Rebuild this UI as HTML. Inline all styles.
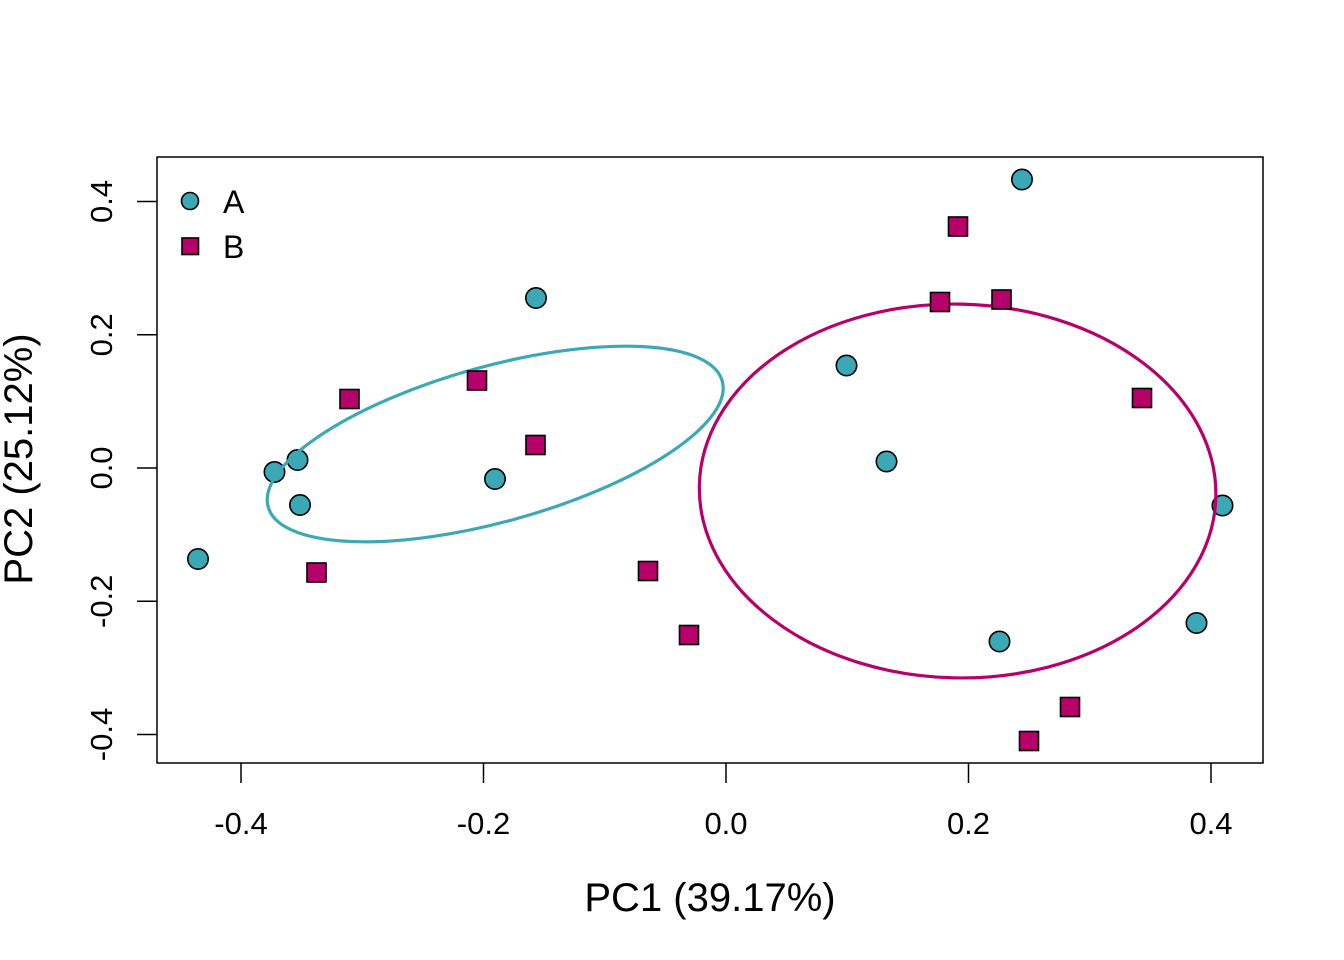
<!DOCTYPE html>
<html>
<head>
<meta charset="utf-8">
<style>
  html, body { margin: 0; padding: 0; background: #ffffff; }
  svg { display: block; }
  text { font-family: "Liberation Sans", Arial, sans-serif; fill: #000; }
</style>
</head>
<body>
<svg width="1344" height="960" viewBox="0 0 1344 960" xmlns="http://www.w3.org/2000/svg">
  <rect x="0" y="0" width="1344" height="960" fill="#ffffff"/>

  <!-- plot box -->
  <rect x="157" y="157" width="1106" height="606" fill="none" stroke="#000" stroke-width="1.5"/>

  <!-- x ticks -->
  <g stroke="#000" stroke-width="1.5">
    <line x1="241" y1="763" x2="241" y2="783"/>
    <line x1="483.5" y1="763" x2="483.5" y2="783"/>
    <line x1="726" y1="763" x2="726" y2="783"/>
    <line x1="968.5" y1="763" x2="968.5" y2="783"/>
    <line x1="1211" y1="763" x2="1211" y2="783"/>
  </g>
  <g font-size="31" text-anchor="middle">
    <text x="241" y="834">-0.4</text>
    <text x="483.5" y="834">-0.2</text>
    <text x="726" y="834">0.0</text>
    <text x="968.5" y="834">0.2</text>
    <text x="1211" y="834">0.4</text>
  </g>

  <!-- y ticks -->
  <g stroke="#000" stroke-width="1.5">
    <line x1="137" y1="201.5" x2="157" y2="201.5"/>
    <line x1="137" y1="334.8" x2="157" y2="334.8"/>
    <line x1="137" y1="468" x2="157" y2="468"/>
    <line x1="137" y1="601.3" x2="157" y2="601.3"/>
    <line x1="137" y1="734.5" x2="157" y2="734.5"/>
  </g>
  <g font-size="31" text-anchor="middle">
    <text transform="translate(112,201.5) rotate(-90)">0.4</text>
    <text transform="translate(112,334.8) rotate(-90)">0.2</text>
    <text transform="translate(112,468) rotate(-90)">0.0</text>
    <text transform="translate(112,601.3) rotate(-90)">-0.2</text>
    <text transform="translate(112,734.5) rotate(-90)">-0.4</text>
  </g>

  <!-- axis titles -->
  <text x="710" y="911" font-size="40" text-anchor="middle">PC1 (39.17%)</text>
  <text transform="translate(32,459) rotate(-90)" font-size="40" text-anchor="middle">PC2 (25.12%)</text>

  <!-- group A points (circles) -->
  <g fill="#3AA9B5" stroke="#000" stroke-width="1.6">
    <circle cx="1022" cy="179.5" r="10.2"/>
    <circle cx="536" cy="298" r="10.2"/>
    <circle cx="846.5" cy="365.5" r="10.2"/>
    <circle cx="886.5" cy="461.5" r="10.2"/>
    <circle cx="274.5" cy="472" r="10.2"/>
    <circle cx="297.5" cy="460" r="10.2"/>
    <circle cx="300" cy="505" r="10.2"/>
    <circle cx="495" cy="479" r="10.2"/>
    <circle cx="198" cy="559" r="10.2"/>
    <circle cx="1222.5" cy="505.5" r="10.2"/>
    <circle cx="999.5" cy="641.5" r="10.2"/>
    <circle cx="1196.5" cy="623" r="10.2"/>
  </g>

  <!-- ellipses -->
  <ellipse cx="495.2" cy="444" rx="235.6" ry="77.7" transform="rotate(-15.5 495.2 444)" fill="none" stroke="#3AA9B5" stroke-width="3.2"/>
  <ellipse cx="957.6" cy="491" rx="258.3" ry="186.9" transform="rotate(1.3 957.6 491)" fill="none" stroke="#B8006B" stroke-width="3.2"/>

  <!-- group B points (squares) -->
  <g fill="#B8006B" stroke="#000" stroke-width="1.6">
    <rect x="948.5" y="217" width="19" height="19"/>
    <rect x="930.5" y="292.5" width="19" height="19"/>
    <rect x="992" y="290" width="19" height="19"/>
    <rect x="1132.5" y="388.5" width="19" height="19"/>
    <rect x="340" y="389.5" width="19" height="19"/>
    <rect x="467.5" y="371" width="19" height="19"/>
    <rect x="526" y="435.5" width="19" height="19"/>
    <rect x="307" y="563" width="19" height="19"/>
    <rect x="638.5" y="561.5" width="19" height="19"/>
    <rect x="679.5" y="625.5" width="19" height="19"/>
    <rect x="1060.5" y="697.5" width="19" height="19"/>
    <rect x="1019.5" y="731.5" width="19" height="19"/>
  </g>

  <!-- legend -->
  <circle cx="190" cy="201" r="8.5" fill="#3AA9B5" stroke="#000" stroke-width="1.6"/>
  <rect x="182" y="238" width="16.5" height="16.5" fill="#B8006B" stroke="#000" stroke-width="1.6"/>
  <text x="223" y="213" font-size="32">A</text>
  <text x="223" y="258" font-size="32">B</text>
</svg>
</body>
</html>
